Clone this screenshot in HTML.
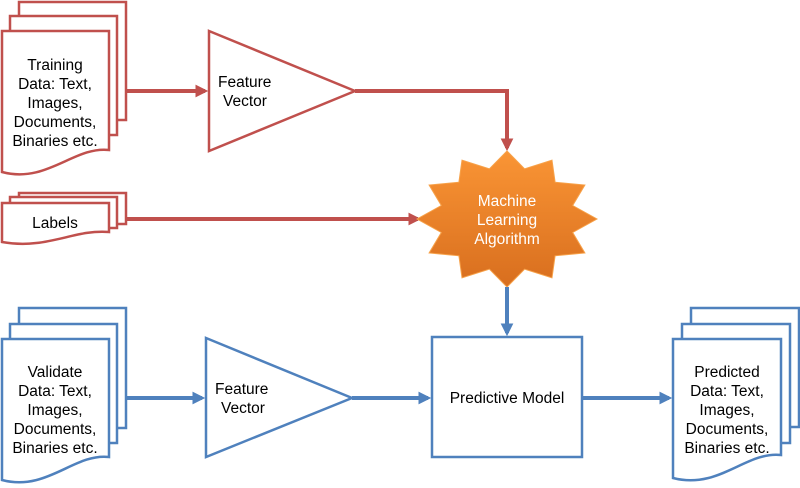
<!DOCTYPE html>
<html><head><meta charset="utf-8"><style>
html,body{margin:0;padding:0;background:#fff;}
svg{display:block;}
text{font-family:"Liberation Sans",sans-serif;font-size:15.5px;fill:#000;}
</style></head><body>
<svg width="800" height="488" viewBox="0 0 800 488" xmlns="http://www.w3.org/2000/svg">
<defs>
<linearGradient id="og" x1="0" y1="0" x2="0" y2="1">
<stop offset="0" stop-color="#fa9535"/><stop offset="1" stop-color="#d86e1e"/>
</linearGradient>
<marker id="ar" markerWidth="3.2" markerHeight="3.2" refX="2.4" refY="1.6" orient="auto" markerUnits="strokeWidth"><path d="M0,0 L3.2,1.6 L0,3.2 Z" fill="#c0504d"/></marker>
<marker id="ab" markerWidth="3.2" markerHeight="3.2" refX="2.4" refY="1.6" orient="auto" markerUnits="strokeWidth"><path d="M0,0 L3.2,1.6 L0,3.2 Z" fill="#4f81bd"/></marker>
</defs>

<g fill="#fff" stroke="#c0504d" stroke-width="2.5">
<rect x="19" y="2" width="107" height="118"/>
<rect x="10" y="16" width="107" height="119"/>
<path d="M2,31 H109 V150 C74,146 47,184 2,172 Z"/>
<rect x="19" y="193" width="107" height="31"/>
<rect x="10" y="197" width="107" height="31"/>
<path d="M2,203 H109 V232 C74,229 47,250 2,242 Z"/>
<path d="M209,31 L355,91 L209,151 Z"/>
</g>
<g fill="none" stroke="#c0504d" stroke-width="4">
<path d="M126,91 H205" marker-end="url(#ar)"/>
<path d="M355,91 H507 V148" marker-end="url(#ar)"/>
<path d="M126,219 H418" marker-end="url(#ar)"/>
</g>

<polygon fill="url(#og)" stroke="#f7a24a" stroke-width="1" points="507,151 524.6,168.8 552,160.1 555.1,182.2 584.9,185 572.7,205.5 597,219 572.7,232.5 584.9,253 555.1,255.8 552,277.9 524.6,269.2 507,287 489.4,269.2 462,277.9 458.9,255.8 429.1,253 441.3,232.5 417,219 441.3,205.5 429.1,185 458.9,182.2 462,160.1 489.4,168.8"/>

<g fill="#fff" stroke="#4f81bd" stroke-width="2.5">
<rect x="19" y="308" width="107" height="120"/>
<rect x="10" y="324" width="107" height="119"/>
<path d="M2,339 H109 V457 C74,453 47,492 2,480 Z"/>
<path d="M206,338 L352,398 L206,457 Z"/>
<rect x="432" y="337" width="150" height="120"/>
<rect x="691" y="308" width="108" height="119"/>
<rect x="682" y="324" width="108" height="119"/>
<path d="M673,339 H781 V455 C746,451 719,490 673,478 Z"/>
</g>
<g fill="none" stroke="#4f81bd" stroke-width="4">
<path d="M126,398 H202" marker-end="url(#ab)"/>
<path d="M352,398 H428" marker-end="url(#ab)"/>
<path d="M507,287 V333" marker-end="url(#ab)"/>
<path d="M582,398 H669" marker-end="url(#ab)"/>
</g>

<g text-anchor="middle">
<text x="55" y="70">Training</text>
<text x="55" y="89">Data: Text,</text>
<text x="55" y="108">Images,</text>
<text x="55" y="127">Documents,</text>
<text x="55" y="146">Binaries etc.</text>
<text x="55" y="228">Labels</text>
<text x="55" y="377">Validate</text>
<text x="55" y="396">Data: Text,</text>
<text x="55" y="415">Images,</text>
<text x="55" y="434">Documents,</text>
<text x="55" y="453">Binaries etc.</text>
<text x="727" y="377">Predicted</text>
<text x="727" y="396">Data: Text,</text>
<text x="727" y="415">Images,</text>
<text x="727" y="434">Documents,</text>
<text x="727" y="453">Binaries etc.</text>
<text x="507" y="403">Predictive Model</text>
<text x="507" y="206" style="fill:#fff">Machine</text>
<text x="507" y="225" style="fill:#fff">Learning</text>
<text x="507" y="244" style="fill:#fff">Algorithm</text>
</g>
<text x="218" y="87">Feature</text>
<text x="223" y="106">Vector</text>
<text x="215" y="394">Feature</text>
<text x="221" y="413">Vector</text>
</svg>
</body></html>
